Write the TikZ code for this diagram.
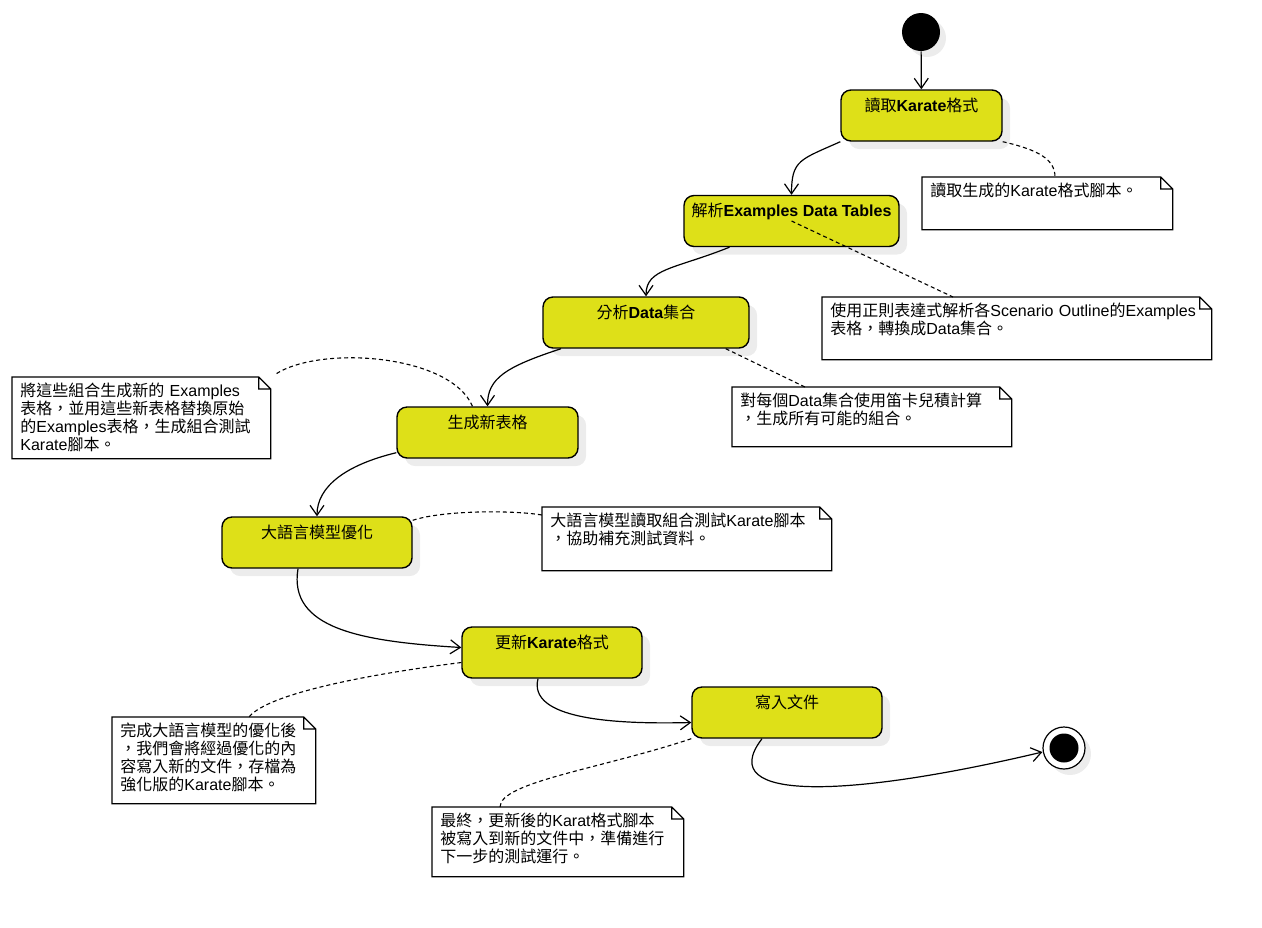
\documentclass[tikz,border=0pt]{standalone}
\usepackage{fontspec}
\setmainfont{Liberation Sans}
\newfontfamily\cjkfont{Noto Sans CJK TC}
\newcommand{\zh}[1]{{\cjkfont\mdseries #1}}
\usetikzlibrary{arrows.meta,calc,shadows}
\definecolor{actfill}{RGB}{222,224,24}
\definecolor{shade}{RGB}{236,236,236}

\begin{document}
\begin{tikzpicture}[x=0.5pt, y=-0.5pt,
    act/.style={draw, line width=0.7pt, rounded corners=5pt, fill=actfill, inner sep=0pt,
        text height=10.5pt, text depth=15pt, font=\fontsize{8}{9}\selectfont\bfseries,
        general shadow={fill=shade, shadow xshift=4pt, shadow yshift=-4pt}},
    startdot/.style={circle, fill=black, minimum size=19pt, inner sep=0pt,
        general shadow={fill=shade, shadow xshift=3pt, shadow yshift=-3pt}},
    enddot/.style={circle, draw, line width=0.6pt, fill=white, minimum size=21pt, inner sep=0pt,
        general shadow={fill=shade, shadow xshift=3pt, shadow yshift=-3pt},
        path picture={\fill[black] (path picture bounding box.center) circle (7.25pt);}},
    notebox/.style={inner xsep=4pt, inner ysep=0pt, align=left, anchor=north west,
        text height=9.5pt, font=\fontsize{8}{9}\selectfont,
        append after command={\pgfextra{
            \draw[line width=0.6pt] (\tikzlastnode.north west) -- ([xshift=-6pt]\tikzlastnode.north east)
                -- ([yshift=-6pt]\tikzlastnode.north east) -- (\tikzlastnode.south east)
                -- (\tikzlastnode.south west) -- cycle
                ([xshift=-6pt]\tikzlastnode.north east) |- ([yshift=-6pt]\tikzlastnode.north east);}}},
    flow/.style={line width=0.6pt, -{Straight Barb[length=5pt,width=7pt]}},
    link/.style={line width=0.55pt, dash pattern=on 2pt off 1.5pt}]

    \useasboundingbox (0,0) rectangle (1262,927);

    % Start and end
    \node[startdot] (start) at (921,32) {};
    \node[enddot] (stop) at (1064,748) {};

    % Actions
    \node[act, minimum width=80.5pt] (read) at (921.5,115.5) {\zh{讀取}Karate\zh{格式}};
    \node[act, minimum width=107.5pt] (parse) at (791.5,221) {\zh{解析}Examples Data Tables};
    \node[act, minimum width=103pt] (analyse) at (646,322.5) {\zh{分析}Data\zh{集合}};
    \node[act, minimum width=90.5pt] (newtab) at (487.5,432.5) {\zh{生成新表格}};
    \node[act, minimum width=95pt] (llm) at (317,542.5) {\zh{大語言模型優化}};
    \node[act, minimum width=90pt] (update) at (552,652.5) {\zh{更新}Karate\zh{格式}};
    \node[act, minimum width=95pt] (write) at (787,712.5) {\zh{寫入文件}};

    % Notes
    \node[notebox, text width=117pt, text depth=16.5pt] (nread) at (922,177)
        {\zh{讀取生成的}Karate\zh{格式腳本。}};
    \node[notebox, text width=186.5pt, text depth=21.5pt] (nparse) at (822,297)
        {\zh{使用正則表達式解析各}Scenario Outline\zh{的}Examples\\
         \zh{表格，轉換成}Data\zh{集合。}};
    \node[notebox, text width=131.5pt, text depth=20pt] (nanalyse) at (732,387)
        {\zh{對每個}Data\zh{集合使用笛卡兒積計算}\\
         \zh{，生成所有可能的組合。}};
    \node[notebox, text width=121pt, text depth=31pt] (nnewtab) at (12,377)
        {\zh{將這些組合生成新的} Examples\\
         \zh{表格，並用這些新表格替換原始}\\
         \zh{的}Examples\zh{表格，生成組合測試}\\
         Karate\zh{腳本。}};
    \node[notebox, text width=136.5pt, text depth=22pt] (nllm) at (542,507)
        {\zh{大語言模型讀取組合測試}Karate\zh{腳本}\\
         \zh{，協助補充測試資料。}};
    \node[notebox, text width=93.5pt, text depth=33.5pt] (nupdate) at (112,717)
        {\zh{完成大語言模型的優化後}\\
         \zh{，我們會將經過優化的內}\\
         \zh{容寫入新的文件，存檔為}\\
         \zh{強化版的}Karate\zh{腳本。}};
    \node[notebox, text width=117.5pt, text depth=25pt] (nwrite) at (432,807)
        {\zh{最終，更新後的}Karat\zh{格式腳本}\\
         \zh{被寫入到新的文件中，準備進行}\\
         \zh{下一步的測試運行。}};

    % Flow
    \draw[flow] (start) -- (read);
    \draw[flow] (read.south west) .. controls +(-40,18) and +(0,-35) .. (parse.north);
    \draw[flow] ($(parse.south)+(-62,0)$) .. controls +(-55,22) and +(0,-28) .. (analyse.north);
    \draw[flow] ($(analyse.south)+(-85,0)$) .. controls +(-55,18) and +(0,-28) .. (newtab.north);
    \draw[flow] ($(newtab.south west)+(0,-6)$) .. controls +(-50,12) and +(0,-30) .. (llm.north);
    \draw[flow] ($(llm.south)+(-19,0)$) .. controls +(-10,60) and +(-100,-6) .. ($(update.west)+(0,-5)$);
    \draw[flow] ($(update.south)+(-14,0)$) .. controls +(-10,40) and +(-80,2) .. ($(write.west)+(0,10)$);
    \draw[flow] ($(write.south)+(-25,0)$) .. controls +(-50,65) and +(-190,45) .. ($(stop.west)+(0,4)$);

    % Note links
    \draw[link] (read.south east) .. controls +(35,8) and +(0,-18) .. ($(nread.north west)+(133,0)$);
    \draw[link] (parse.center) -- ($(nparse.north west)+(131,0)$);
    \draw[link] ($(analyse.south east)+(-24,0)$) -- ($(nanalyse.north west)+(73,0)$);
    \draw[link] ($(newtab.north)+(-15,0)$) .. controls +(-22,-52) and +(45,-29) .. ($(nnewtab.north east)+(5,-3)$);
    \draw[link] ($(llm.north east)+(0,4)$) .. controls +(30,-10) and +(-30,-5) .. ($(nllm.north west)+(0,8)$);
    \draw[link] ($(update.west)+(0,10)$) .. controls +(-80,10) and +(20,-25) .. ($(nupdate.north west)+(137,0)$);
    \draw[link] (write.south west) .. controls +(-90,30) and +(0,-25) .. ($(nwrite.north west)+(68,0)$);

\end{tikzpicture}
\end{document}
